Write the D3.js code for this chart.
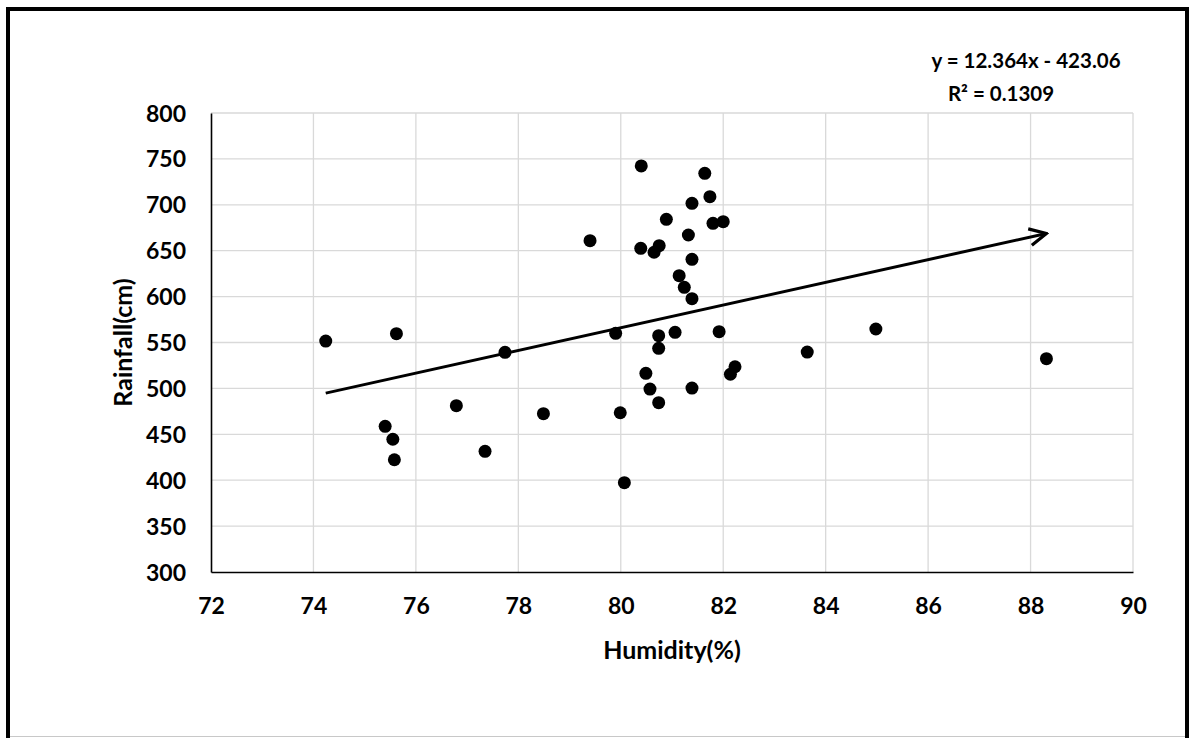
<!DOCTYPE html>
<html>
<head>
<meta charset="utf-8">
<script src="https://cdn.jsdelivr.net/npm/d3@7"></script>
<style>
  body { margin: 0; background: #fff; }
  text { font-family: Lato, "Open Sans", sans-serif; font-weight: bold; fill: #000; }
</style>
</head>
<body>
<script>
// Humidity vs rainfall scatter with linear trendline

const humidity = [74.24, 75.62, 75.40, 75.55, 75.58, 76.79, 77.35, 77.74, 78.49, 79.40,
    79.90, 79.99, 80.07, 80.39, 80.40, 80.49, 80.57, 80.65, 80.74, 80.74,
    80.74, 80.75, 80.89, 81.06, 81.14, 81.24, 81.32, 81.39, 81.39, 81.39,
    81.39, 81.64, 81.74, 81.80, 81.92, 82.00, 82.14, 82.23, 83.64, 84.98, 88.31];
const rainfall = [551.6, 559.6, 458.7, 444.6, 422.3, 481.2, 431.4, 539.3, 472.5, 660.9,
    560.0, 473.5, 397.3, 652.6, 742.4, 516.4, 499.3, 648.3, 557.4, 543.7,
    484.4, 655.5, 684.2, 561.1, 622.8, 610.1, 667.1, 701.6, 640.6, 597.7,
    500.4, 734.3, 708.9, 679.8, 561.8, 681.6, 515.4, 523.6, 539.6, 564.7, 532.4];

const xTicks = [72, 74, 76, 78, 80, 82, 84, 86, 88, 90];
const yTicks = [300, 350, 400, 450, 500, 550, 600, 650, 700, 750, 800];

const slope = 12.364;
const intercept = -423.06;
const eqLabel = 'y = 12.364x - 423.06';
const r2Label = 'R² = 0.1309';

const width = 1191;
const height = 738;
const margin = { top: 113, right: 58, bottom: 166, left: 211 };

const svg = d3.select('body').append('svg')
    .attr('width', width)
    .attr('height', height);

// outer chart frame
svg.append('rect')
    .attr('x', 8).attr('y', 9)
    .attr('width', 1179).attr('height', 760)
    .attr('fill', 'none')
    .attr('stroke', '#000')
    .attr('stroke-width', 4);
svg.append('line')
    .attr('x1', 10).attr('x2', 1185)
    .attr('y1', 736.5).attr('y2', 736.5)
    .attr('stroke', '#c8c8c8');

const x = d3.scaleLinear().domain([72, 90]).range([margin.left, width - margin.right]);
const y = d3.scaleLinear().domain([300, 800]).range([height - margin.bottom, margin.top]);

// gridlines
svg.append('g')
    .selectAll('line')
    .data(xTicks.slice(1))
    .enter().append('line')
    .attr('x1', d => x(d)).attr('x2', d => x(d))
    .attr('y1', y(800)).attr('y2', y(300))
    .attr('stroke', '#d9d9d9')
    .attr('stroke-width', 1.3);
svg.append('g')
    .selectAll('line')
    .data(yTicks.slice(1))
    .enter().append('line')
    .attr('x1', x(72)).attr('x2', x(90))
    .attr('y1', d => y(d)).attr('y2', d => y(d))
    .attr('stroke', '#d9d9d9')
    .attr('stroke-width', 1.3);

// axes
const xAxis = svg.append('g')
    .attr('transform', 'translate(0,' + y(300) + ')')
    .call(d3.axisBottom(x).tickValues(xTicks).tickSize(0).tickPadding(26));
const yAxis = svg.append('g')
    .attr('transform', 'translate(' + x(72) + ',0)')
    .call(d3.axisLeft(y).tickValues(yTicks).tickSize(0).tickPadding(25));

[xAxis, yAxis].forEach(a => {
    a.select('.domain').attr('stroke', '#000').attr('stroke-width', 1.6);
    a.selectAll('text')
        .style('font-family', 'Lato, sans-serif')
        .style('font-weight', 'bold')
        .style('font-size', '23px')
        .attr('fill', '#000');
});
yAxis.selectAll('text').attr('dy', '0.35em');

// axis titles
svg.append('text')
    .attr('x', (x(72) + x(90)) / 2)
    .attr('y', 659)
    .attr('text-anchor', 'middle')
    .style('font-size', '25px')
    .text('Humidity(%)');
svg.append('text')
    .attr('transform', 'translate(132,' + (y(300) + y(800)) / 2 + ') rotate(-90)')
    .attr('text-anchor', 'middle')
    .style('font-size', '25px')
    .text('Rainfall(cm)');

// trendline with open arrow head
const defs = svg.append('defs');
defs.append('marker')
    .attr('id', 'arrow')
    .attr('viewBox', '0 0 10 10')
    .attr('refX', 9).attr('refY', 5)
    .attr('markerWidth', 7).attr('markerHeight', 7)
    .attr('markerUnits', 'strokeWidth')
    .attr('orient', 'auto')
    .append('path')
    .attr('d', 'M1,1 L9,5 L1,9')
    .attr('fill', 'none')
    .attr('stroke', '#000')
    .attr('stroke-width', 1.5);

const xMin = d3.min(humidity);
const xMax = d3.max(humidity);
svg.append('line')
    .attr('x1', x(xMin)).attr('y1', y(slope * xMin + intercept))
    .attr('x2', x(xMax)).attr('y2', y(slope * xMax + intercept))
    .attr('stroke', '#000')
    .attr('stroke-width', 3)
    .attr('marker-end', 'url(#arrow)');

// points
svg.append('g')
    .selectAll('circle')
    .data(humidity.map((h, i) => [h, rainfall[i]]))
    .enter().append('circle')
    .attr('cx', d => x(d[0]))
    .attr('cy', d => y(d[1]))
    .attr('r', 6.5)
    .attr('fill', '#000');

// trendline equation
svg.append('text')
    .attr('x', 1026).attr('y', 68)
    .attr('text-anchor', 'middle')
    .style('font-size', '20.5px')
    .text(eqLabel);
svg.append('text')
    .attr('x', 1001).attr('y', 101)
    .attr('text-anchor', 'middle')
    .style('font-size', '20.5px')
    .text(r2Label);
</script>
</body>
</html>
